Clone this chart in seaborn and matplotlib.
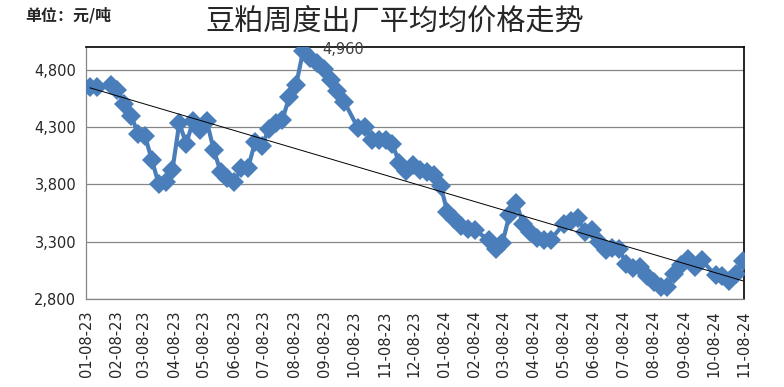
import numpy as np
import pandas as pd
import seaborn as sns
import matplotlib.pyplot as plt
import matplotlib.dates as mdates
from matplotlib.ticker import FuncFormatter

# weekly quotes (holiday weeks have no quote)
dates = [
    "2023-01-12", "2023-01-19", "2023-02-02", "2023-02-09", "2023-02-16", "2023-02-23",
    "2023-03-02", "2023-03-09", "2023-03-16", "2023-03-23", "2023-03-30", "2023-04-06",
    "2023-04-13", "2023-04-20", "2023-04-27", "2023-05-04", "2023-05-11", "2023-05-18",
    "2023-05-25", "2023-06-01", "2023-06-08", "2023-06-15", "2023-06-22", "2023-06-29",
    "2023-07-06", "2023-07-13", "2023-07-20", "2023-07-27", "2023-08-03", "2023-08-10",
    "2023-08-17", "2023-08-24", "2023-08-31", "2023-09-07", "2023-09-14", "2023-09-21",
    "2023-09-28", "2023-10-12", "2023-10-19", "2023-10-26", "2023-11-02", "2023-11-09",
    "2023-11-16", "2023-11-23", "2023-11-30", "2023-12-07", "2023-12-14", "2023-12-21",
    "2023-12-28", "2024-01-04", "2024-01-11", "2024-01-18", "2024-01-25", "2024-02-01",
    "2024-02-08", "2024-02-22", "2024-02-29", "2024-03-07", "2024-03-14", "2024-03-21",
    "2024-03-28", "2024-04-04", "2024-04-11", "2024-04-18", "2024-04-25", "2024-05-09",
    "2024-05-16", "2024-05-23", "2024-05-30", "2024-06-06", "2024-06-13", "2024-06-20",
    "2024-06-27", "2024-07-04", "2024-07-11", "2024-07-18", "2024-07-25", "2024-08-01",
    "2024-08-08", "2024-08-15", "2024-08-22", "2024-08-29", "2024-09-05", "2024-09-12",
    "2024-09-19", "2024-09-26", "2024-10-10", "2024-10-17", "2024-10-24", "2024-10-31",
    "2024-11-07",
]
prices = [
    4650, 4650, 4670, 4626, 4504, 4400,
    4242, 4225, 4015, 3806, 3826, 3928,
    4336, 4155, 4350, 4277, 4350, 4103,
    3913, 3856, 3826, 3943, 3943, 4166,
    4131, 4283, 4336, 4365, 4563, 4670,
    4960, 4900, 4860, 4810, 4710, 4610,
    4520, 4290, 4300, 4190, 4190, 4190,
    4150, 3990, 3920, 3970, 3930, 3905,
    3880, 3790, 3560, 3500, 3440, 3410,
    3400, 3320, 3240, 3290, 3530, 3640,
    3460, 3390, 3330, 3320, 3320, 3460,
    3480, 3510, 3390, 3400, 3300, 3230,
    3245, 3240, 3110, 3070, 3080, 3000,
    2950, 2905, 2910, 3020, 3100, 3150,
    3085, 3140, 3010, 3000, 2960, 3020,
    3130,
]
yticks = [2800, 3300, 3800, 4300, 4800]
peak_label = "4,960"

df = pd.DataFrame({"date": pd.to_datetime(dates), "price": prices})
df["num"] = mdates.date2num(df["date"])

sns.set_style("white")
plt.rcParams["font.family"] = ["DejaVu Sans", "Noto Sans CJK SC"]

blue = "#4a7ebb"
gray = "#868686"

fig = plt.figure(figsize=(7.84, 3.87), dpi=100)
ax = fig.add_axes([0.1097, 0.2266, 0.8393, 0.6527])

sns.lineplot(data=df, x="date", y="price", ax=ax, color=blue, linewidth=3.0,
             marker="D", markersize=10, markeredgecolor=blue, markeredgewidth=0,
             zorder=3)
sns.regplot(data=df, x="num", y="price", ax=ax, scatter=False, ci=None,
            truncate=True, line_kws={"color": "black", "linewidth": 0.7, "zorder": 4})

ax.set_xlim(pd.Timestamp("2023-01-08"), pd.Timestamp("2024-11-08"))
ax.set_ylim(2800, 5000)
ax.set_yticks(yticks)
ax.yaxis.set_major_formatter(FuncFormatter(lambda v, p: f"{int(v):,}"))
ax.xaxis.set_major_locator(mdates.MonthLocator(bymonthday=8))
ax.xaxis.set_major_formatter(mdates.DateFormatter("%m-%d-%y"))
ax.set_xlabel("")
ax.set_ylabel("")

ax.grid(axis="y", color=gray, linewidth=0.9)
ax.grid(axis="x", visible=False)
ax.set_axisbelow(True)
ax.tick_params(axis="x", direction="out", length=5, width=0.9, color=gray,
               labelsize=10.5, rotation=90, pad=3)
ax.tick_params(axis="y", direction="out", length=4, width=0.9, color=gray,
               labelsize=10.5, pad=3)
for side in ["left", "bottom"]:
    ax.spines[side].set_color(gray)
    ax.spines[side].set_linewidth(0.9)
for side in ["top", "right"]:
    ax.spines[side].set_color("black")
    ax.spines[side].set_linewidth(1.2)

peak = df.loc[df["price"].idxmax()]
ax.annotate(peak_label, xy=(peak["date"], peak["price"]), xytext=(14, 1),
            textcoords="offset points", ha="left", va="center",
            fontsize=10.5, color="#404040")

fig.text(0.504, 0.943, "豆粕周度出厂平均均价格走势", ha="center", va="center",
         fontsize=21, family=["Noto Sans CJK SC", "DejaVu Sans"])
fig.text(0.032, 0.961, "单位：元/吨", ha="left", va="center", fontsize=11.5,
         fontweight="bold", family=["Noto Sans CJK SC", "DejaVu Sans"])

fig.savefig("out.png", dpi=100)
